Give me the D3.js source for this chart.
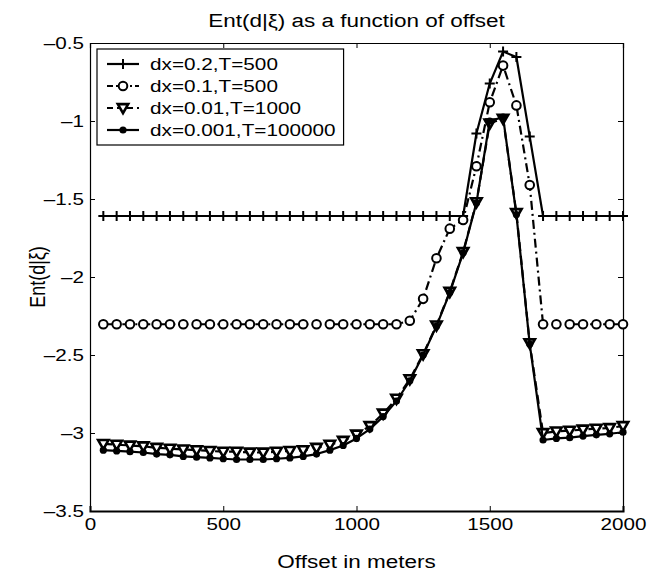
<!DOCTYPE html>
<html><head><meta charset="utf-8">
<script src="https://cdn.jsdelivr.net/npm/d3@7"></script>
<style>body{margin:0;background:#fff}text{font-family:"Liberation Sans",Arial,sans-serif;fill:#000}</style>
</head><body><svg id="c" width="657" height="573"></svg>
<script>
const offsets = [50,100,150,200,250,300,350,400,450,500,550,600,650,700,750,800,850,900,950,1000,
  1050,1100,1150,1200,1250,1300,1350,1400,1450,1500,1550,1600,1650,1700,1750,1800,1850,1900,1950,2000];
const seriesNames = ["dx=0.2,T=500","dx=0.1,T=500","dx=0.01,T=1000","dx=0.001,T=100000"];
const s1 = [-1.609,-1.609,-1.609,-1.609,-1.609,-1.609,-1.609,-1.609,-1.609,-1.609,-1.609,-1.609,-1.609,-1.609,
  -1.609,-1.609,-1.609,-1.609,-1.609,-1.609,-1.609,-1.609,-1.609,-1.609,-1.609,-1.609,-1.609,-1.609,
  -1.08,-0.76,-0.555,-0.59,-1.10,-1.609,-1.609,-1.609,-1.609,-1.609,-1.609,-1.609];
const s2 = [-2.303,-2.303,-2.303,-2.303,-2.303,-2.303,-2.303,-2.303,-2.303,-2.303,-2.303,-2.303,-2.303,-2.303,
  -2.303,-2.303,-2.303,-2.303,-2.303,-2.303,-2.303,-2.303,-2.303,
  -2.28,-2.14,-1.88,-1.69,-1.635,-1.29,-0.88,-0.645,-0.90,-1.41,
  -2.303,-2.303,-2.303,-2.303,-2.303,-2.303,-2.303];
const s3 = [-3.07,-3.075,-3.08,-3.085,-3.095,-3.10,-3.105,-3.11,-3.115,-3.12,-3.12,-3.125,-3.125,-3.12,-3.115,
  -3.11,-3.095,-3.075,-3.05,-3.01,-2.955,-2.875,-2.78,-2.655,-2.495,-2.31,-2.095,-1.84,-1.52,-1.015,-0.985,
  -1.59,-2.425,-3.0,-2.99,-2.985,-2.978,-2.972,-2.968,-2.955];
const s4 = [-3.11,-3.115,-3.12,-3.125,-3.135,-3.14,-3.15,-3.155,-3.16,-3.165,-3.17,-3.17,-3.17,-3.165,-3.16,
  -3.15,-3.135,-3.11,-3.08,-3.035,-2.975,-2.895,-2.795,-2.665,-2.5,-2.315,-2.1,-1.845,-1.525,-1.0,-0.975,
  -1.6,-2.43,-3.045,-3.035,-3.03,-3.02,-3.012,-3.005,-2.995];
const xTicks = [0,500,1000,1500,2000];
const yTicks = [-3.5,-3,-2.5,-2,-1.5,-1,-0.5];
const titleText = "Ent(d|\u03be) as a function of offset";
const xLabel = "Offset in meters";
const yLabel = "Ent(d|\u03be)";

const svg = d3.select("#c");
const L = 90, R = 623, T = 43, B = 511;
const x = d3.scaleLinear().domain([0,2000]).range([L,R]);
const y = d3.scaleLinear().domain([-3.5,-0.5]).range([B,T]);
const fmt = d => String(d).replace("-", "\u2013");

const KT = 1.29; // tick text horizontal stretch
function stretchTicks(g){
  g.selectAll(".tick text").each(function(){
    const t = d3.select(this);
    const xa = +t.attr("x") || 0;
    t.attr("x", xa/KT).attr("transform",`scale(${KT},1)`);
  });
}
const gx = svg.append("g").attr("transform",`translate(0,${B})`)
  .call(d3.axisBottom(x).tickValues(xTicks).tickSize(-5).tickPadding(8).tickFormat(d=>String(d)));
const gt = svg.append("g").attr("transform",`translate(0,${T})`)
  .call(d3.axisTop(x).tickValues(xTicks).tickSize(-5).tickFormat(""));
const gl = svg.append("g").attr("transform",`translate(${L},0)`)
  .call(d3.axisLeft(y).tickValues(yTicks).tickSize(-5).tickPadding(6).tickFormat(fmt));
const gr = svg.append("g").attr("transform",`translate(${R},0)`)
  .call(d3.axisRight(y).tickValues(yTicks).tickSize(-5).tickFormat(""));
[gx,gt,gl,gr].forEach(g=>{
  g.selectAll("path.domain").attr("stroke","#000").attr("stroke-width",1.2);
  g.selectAll(".tick line").attr("stroke","#000").attr("stroke-width",1);
  g.selectAll(".tick text").style("font-size","16px").style("font-family","'Liberation Sans',Arial,sans-serif");
  stretchTicks(g);
});
gx.select("path.domain").attr("stroke-width",2);

const line = d3.line().x((d,i)=>x(offsets[i])).y(d=>y(d));
const series = [
  {v:s1, dash:null, ldash:null, marker:"plus"},
  {v:s2, dash:"9,4,2,4", ldash:"6,3,2,3", marker:"circle"},
  {v:s3, dash:"9,5", ldash:"6,4", marker:"tri"},
  {v:s4, dash:null, ldash:null, marker:"dot"}
];
const LW = 2.2;
function drawMarker(g, type, cx, cy){
  if(type==="plus"){
    g.append("path").attr("d",`M${cx-5},${cy}H${cx+5}M${cx},${cy-5}V${cy+5}`)
      .attr("stroke","#000").attr("stroke-width",2).attr("fill","none");
  } else if(type==="circle"){
    g.append("circle").attr("cx",cx).attr("cy",cy).attr("r",4.3)
      .attr("fill","#fff").attr("stroke","#000").attr("stroke-width",2);
  } else if(type==="tri"){
    const s=5.2;
    g.append("path").attr("d",`M${cx-s},${cy-s*0.75}L${cx+s},${cy-s*0.75}L${cx},${cy+s}Z`)
      .attr("fill","#fff").attr("stroke","#000").attr("stroke-width",2.6).attr("stroke-linejoin","miter");
  } else {
    g.append("circle").attr("cx",cx).attr("cy",cy).attr("r",3.6).attr("fill","#000");
  }
}
series.forEach(s=>{
  const g = svg.append("g");
  g.append("path").attr("d",line(s.v)).attr("fill","none").attr("stroke","#000")
    .attr("stroke-width",LW).attr("stroke-dasharray",s.dash).attr("stroke-linejoin","round");
  s.v.forEach((d,i)=>drawMarker(g, s.marker, x(offsets[i]), y(d)));
});

// legend
const KL = 1.22;
const lg = svg.append("g");
const lx = 97, ly = 49, rowH = 22;
const box = lg.append("rect").attr("x",lx).attr("y",ly).attr("height",rowH*4+8)
  .attr("fill","#fff").attr("stroke","#000").attr("stroke-width",1.2);
let maxEnd = 0;
series.forEach((s,i)=>{
  const cy = ly + 15 + i*rowH;
  lg.append("line").attr("x1",lx+10).attr("x2",lx+42).attr("y1",cy).attr("y2",cy)
    .attr("stroke","#000").attr("stroke-width",LW).attr("stroke-dasharray",s.ldash);
  drawMarker(lg, s.marker, lx+26, cy);
  const tx = lx+53;
  const t = lg.append("text").attr("transform",`translate(${tx},${cy}) scale(${KL},1)`).attr("dy","0.36em")
    .style("font-size","17px").text(seriesNames[i]);
  maxEnd = Math.max(maxEnd, tx + t.node().getComputedTextLength()*KL);
});
box.attr("width", maxEnd + 8 - lx);

const KA = 1.25;
function stretchedText(tx, ty, size, str, rot){
  return svg.append("text").attr("transform",`translate(${tx},${ty}) scale(${KA},1)` + (rot?` rotate(${rot})`:""))
    .attr("text-anchor","middle").style("font-size",size+"px").text(str);
}
stretchedText((L+R)/2, 27, 18, titleText);
stretchedText((L+R)/2, 568, 18, xLabel);
stretchedText(45, (T+B)/2, 18, yLabel, -90);
</script></body></html>
